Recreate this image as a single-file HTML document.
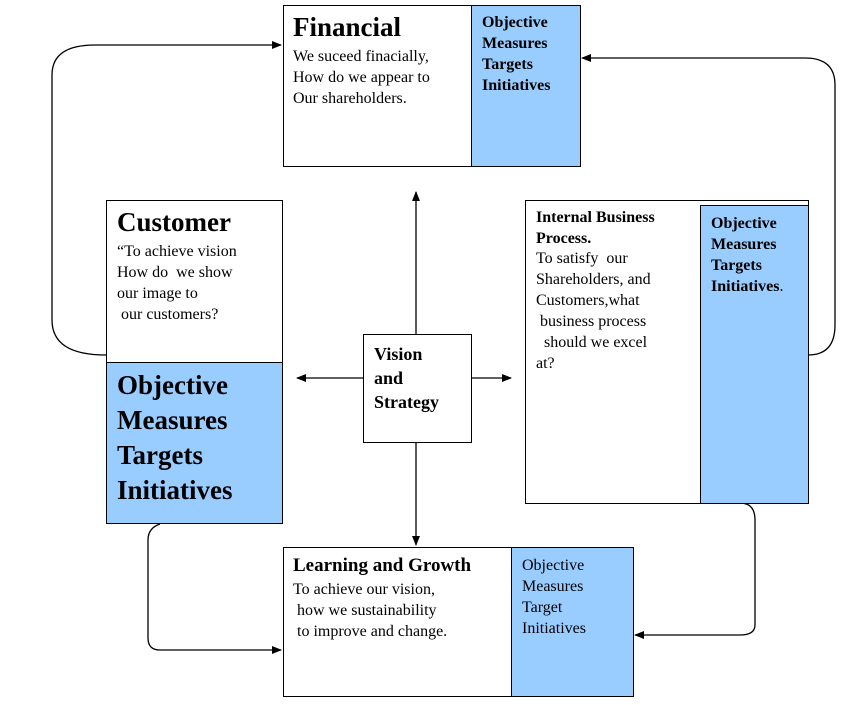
<!DOCTYPE html>
<html><head><meta charset="utf-8"><style>
body{margin:0;width:868px;height:705px;background:#fff;position:relative;overflow:hidden;font-family:"Liberation Serif",serif;color:#000}
.b{position:absolute;border:1.5px solid #000;box-sizing:border-box;background:#fff}
.bl{position:absolute;background:#99ccff;border:1.5px solid #000;box-sizing:border-box}
.t{position:absolute;white-space:pre;line-height:1}
svg{position:absolute;left:0;top:0}
</style></head><body>
<svg width="868" height="705">
<defs><marker id="a" markerWidth="10" markerHeight="8" refX="9" refY="4" orient="auto" markerUnits="userSpaceOnUse"><path d="M0,0 L10,4 L0,8z" fill="#000"/></marker></defs>
<g fill="none" stroke="#000" stroke-width="1.3">
<path d="M416,334 V192" marker-end="url(#a)"/>
<path d="M416,442 V545" marker-end="url(#a)"/>
<path d="M363,378 H297" marker-end="url(#a)"/>
<path d="M471,378 H511" marker-end="url(#a)"/>
<path d="M106,355 Q52,355 52,320 V75 Q52,45 95,45 H281" marker-end="url(#a)"/>
<path d="M808,355 Q835,355 835,325 V85 Q835,58 805,58 H582" marker-end="url(#a)"/>
<path d="M160,524 Q148,528 148,540 V638 Q148,650 160,650 H281" marker-end="url(#a)"/>
<path d="M740,503 Q755,503 755,520 V625 Q755,635 740,635 H635" marker-end="url(#a)"/>
</g></svg>
<div class="b" style="left:283px;top:5px;width:298px;height:162px"></div>
<div class="bl" style="left:471px;top:5px;width:110px;height:162px"></div>
<div class="t" style="left:293px;top:14px;font-size:27px;font-weight:bold">Financial</div>
<div class="t" style="left:293px;top:46px;font-size:16px;line-height:21px">We suceed finacially,
How do we appear to
Our shareholders.</div>
<div class="t" style="left:482px;top:12px;font-size:16px;font-weight:bold;line-height:21px">Objective
Measures
Targets
Initiatives</div>

<div class="b" style="left:106px;top:200px;width:177px;height:324px"></div>
<div class="bl" style="left:106px;top:362px;width:177px;height:162px"></div>
<div class="t" style="left:117px;top:209px;font-size:27px;font-weight:bold">Customer</div>
<div class="t" style="left:117px;top:241px;font-size:16px;line-height:21px">“To achieve vision
How do  we show
our image to
 our customers?</div>
<div class="t" style="left:117px;top:368px;font-size:27px;font-weight:bold;line-height:35px">Objective
Measures
Targets
Initiatives</div>

<div class="b" style="left:363px;top:334px;width:109px;height:109px"></div>
<div class="t" style="left:374px;top:342px;font-size:18px;font-weight:bold;line-height:24px">Vision
and
Strategy</div>

<div class="b" style="left:525px;top:200px;width:284px;height:304px"></div>
<div class="bl" style="left:700px;top:205px;width:109px;height:299px"></div>
<div class="t" style="left:536px;top:207px;font-size:16px;font-weight:bold;line-height:21px">Internal Business
Process.</div>
<div class="t" style="left:536px;top:248px;font-size:16px;line-height:21px">To satisfy  our
Shareholders, and
Customers,what
 business process
  should we excel
at?</div>
<div class="t" style="left:711px;top:213px;font-size:16px;font-weight:bold;line-height:21px">Objective
Measures
Targets
Initiatives<span style="font-weight:normal">.</span></div>

<div class="b" style="left:283px;top:547px;width:351px;height:150px"></div>
<div class="bl" style="left:511px;top:547px;width:123px;height:150px"></div>
<div class="t" style="left:293px;top:556px;font-size:19px;font-weight:bold">Learning and Growth</div>
<div class="t" style="left:293px;top:579px;font-size:16px;line-height:21px">To achieve our vision,
 how we sustainability
 to improve and change.</div>
<div class="t" style="left:522px;top:555px;font-size:16px;line-height:21px">Objective
Measures
Target
Initiatives</div>
</body></html>
